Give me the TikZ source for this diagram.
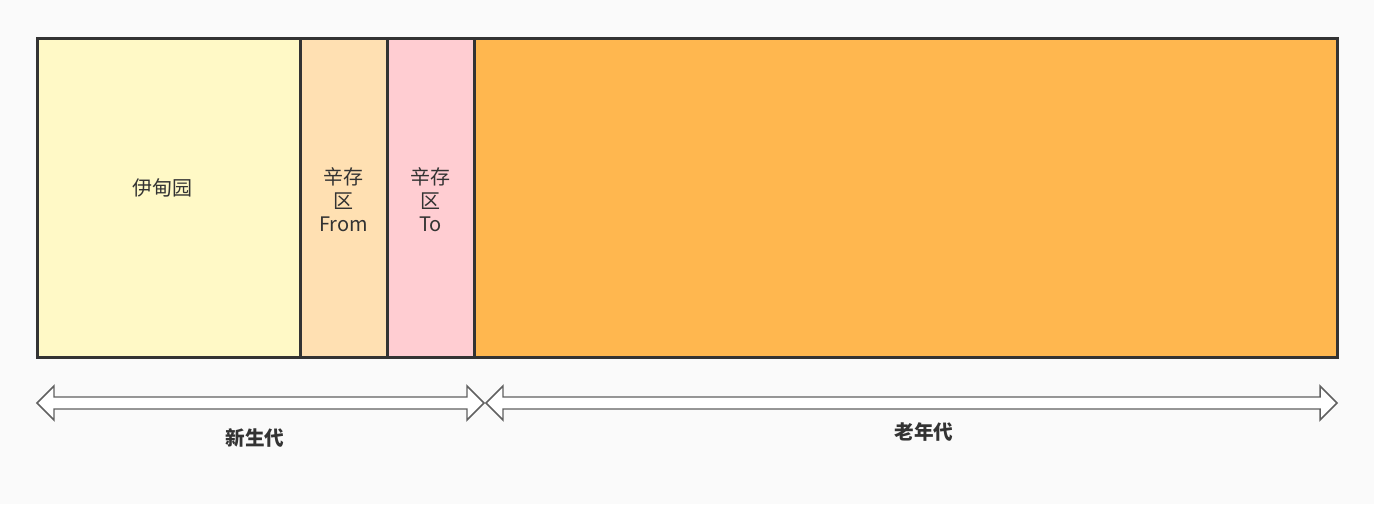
\documentclass[tikz,border=0pt]{standalone}
\usepackage{fontspec}
\setmainfont{Noto Sans CJK SC}
\definecolor{bgcol}{HTML}{FAFAFA}
\definecolor{edgecol}{HTML}{333333}
\definecolor{edencol}{HTML}{FFF9C6}
\definecolor{fromcol}{HTML}{FFE0B2}
\definecolor{tocol}{HTML}{FFCDD2}
\definecolor{oldcol}{HTML}{FFB74F}
\definecolor{arrowcol}{HTML}{606060}
\begin{document}
\begin{tikzpicture}[x=0.75pt,y=-0.75pt,
  region/.style={draw=edgecol, line width=2.25pt},
  spanarrow/.style={draw=arrowcol, fill=white, line width=1.1pt, line join=miter},
  label/.style={text=edgecol, font=\fontsize{15}{17.6}\selectfont, align=center},
  genlabel/.style={text=edgecol, font=\fontsize{14.7}{17}\selectfont\bfseries}]
\fill[bgcol] (0,0) rectangle (1374,504);
\draw[region, fill=edencol] (37,38) rectangle (300,357);
\draw[region, fill=fromcol] (300,38) rectangle (387,357);
\draw[region, fill=tocol] (387,38) rectangle (474,357);
\draw[region, fill=oldcol] (474,38) rectangle (1337,357);
\node[label] (eden) at (162,188) {伊甸园};
\node[label] (from) at (343.5,200) {辛存\\区\\From};
\node[label] (to) at (430.5,200) {辛存\\区\\To};
\draw[spanarrow] (37,403) -- (54,386) -- (54,397) -- (467,397) -- (467,386) -- (484,403)
  -- (467,420) -- (467,409) -- (54,409) -- (54,420) -- cycle;
\draw[spanarrow] (486,403) -- (503,386) -- (503,397) -- (1320,397) -- (1320,386) -- (1337,403)
  -- (1320,420) -- (1320,409) -- (503,409) -- (503,420) -- cycle;
\node[genlabel] (young) at (255,438) {新生代};
\node[genlabel] (old) at (924,432) {老年代};
\end{tikzpicture}
\end{document}
